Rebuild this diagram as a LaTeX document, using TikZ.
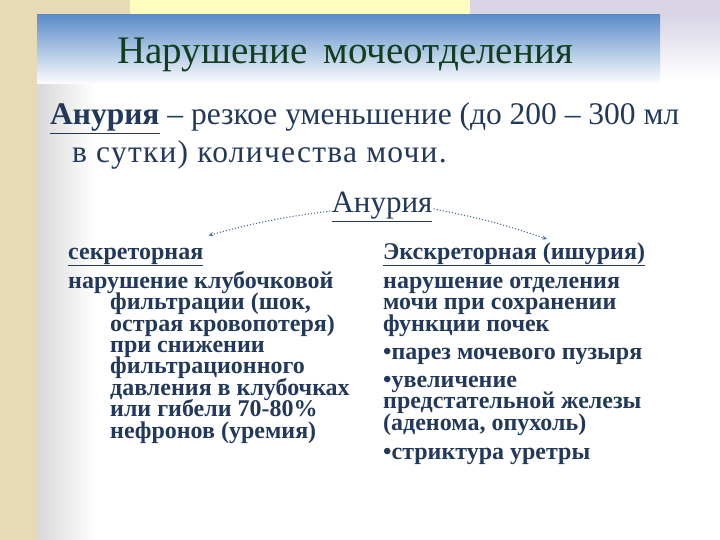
\documentclass[tikz,border=0pt]{standalone}
\usepackage{fontspec}
\setmainfont{Liberation Serif}
\usetikzlibrary{positioning, arrows.meta}
\definecolor{navy}{HTML}{22395C}
\definecolor{titlegreen}{HTML}{123D1E}
\definecolor{beige}{HTML}{E9DAB6}
\definecolor{bandblue}{HTML}{5B8DC9}
\definecolor{lav}{HTML}{D9D5E6}
\definecolor{arrowblue}{HTML}{4A6A95}
\newcommand\tightlines{\lineskiplimit=-50pt\relax}

\begin{document}
\begin{tikzpicture}[
    x=1pt, y=-1pt,
    title/.style={font=\fontsize{39}{39}\selectfont, text=titlegreen, inner sep=0pt},
    deftext/.style={font=\fontsize{31.5}{31.5}\selectfont, text=navy, inner sep=0pt, anchor=base west},
    headtext/.style={font=\fontsize{24}{24}\selectfont\bfseries, text=navy, inner sep=0pt, anchor=base west},
    coltext/.style={font=\fontsize{24}{21.4}\selectfont\bfseries\tightlines, text=navy, inner sep=0pt, align=left, anchor=base west},
    dotarrow/.style={-{Stealth[length=5pt, width=4pt]}, dotted, line width=1.1pt, arrowblue}
]
    % Background
    \useasboundingbox (0,0) rectangle (720,540);
    \fill[white] (0,0) rectangle (720,540);
    \fill[beige] (0,0) rectangle (37,540);
    \fill[beige] (0,0) rectangle (130,15);
    \fill[yellow!25] (130,0) rectangle (470,15);
    \fill[lav] (470,0) rectangle (720,15);
    \shade[top color=lav, bottom color=white] (660,15) rectangle (720,80);
    \shade[top color=bandblue, bottom color=white] (37,15) rectangle (660,85);
    \shade[left color=black!15, right color=white] (37,85) rectangle (95,540);

    % Title
    \node[title] (heading) at (345,55) {Нарушение\, мочеотделения};

    % Definition
    \node[deftext] (defa) at (50,125) {\textbf{\underline{Анурия}} – резкое уменьшение (до 200 – 300 мл};
    \node[deftext] (defb) at (72,163) {\addfontfeature{LetterSpace=4}в сутки) количества мочи.};

    % Centre word
    \node[font=\fontsize{31}{31}\selectfont, text=navy, inner sep=1pt] (anuria) at (382,207) {\underline{Анурия}};

    % Left column (base = last line)
    \node[headtext] (secr) at (68,259) {\underline{секреторная}};
    \node[coltext] (secra) at (68,288) {нарушение клубочковой};
    \node[coltext] (secrb) at (110,438) {фильтрации (шок,\\острая кровопотеря)\\при снижении\\фильтрационного\\давления в клубочках\\или гибели 70-80\%\\нефронов (уремия)};

    % Right column (base = last line)
    \node[headtext] (excr) at (383,259) {\underline{Экскреторная (ишурия)}};
    \node[coltext] (excra) at (383,331) {нарушение отделения\\мочи при сохранении\\функции почек};
    \node[coltext] (excrb) at (383,359) {•парез мочевого пузыря};
    \node[coltext] (excrc) at (383,430) {•увеличение\\предстательной железы\\(аденома, опухоль)};
    \node[coltext] (excrd) at (383,459) {•стриктура уретры};

    % Arrows
    \draw[dotarrow] ([yshift=-4pt]anuria.west) to[bend right=4] ([xshift=5pt, yshift=12pt]secr.north east);
    \draw[dotarrow] ([yshift=-2pt]anuria.east) to[bend left=4] ([xshift=33pt, yshift=3pt]excr.north);
\end{tikzpicture}
\end{document}
